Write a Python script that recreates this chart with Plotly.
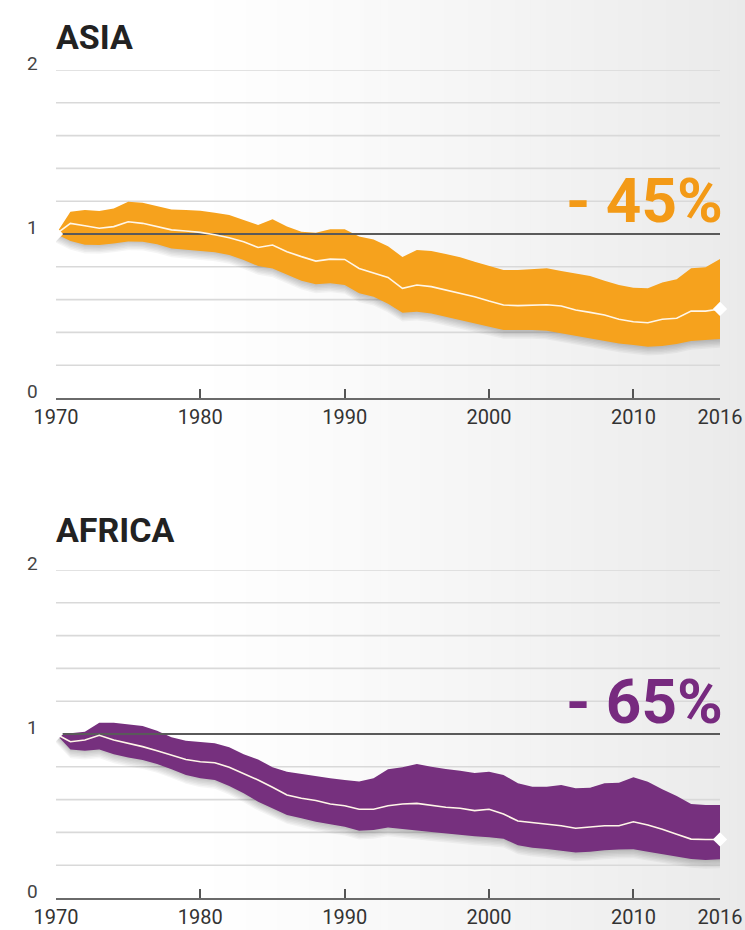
import plotly.graph_objects as go

W, H = 745, 930

years = list(range(1970, 2017))

asia_mid = [1.0, 1.065, 1.05, 1.035, 1.045, 1.075, 1.065, 1.045, 1.025, 1.018,
            1.01, 0.995, 0.977, 0.953, 0.918, 0.933, 0.892, 0.862, 0.835, 0.847,
            0.845, 0.79, 0.764, 0.735, 0.669, 0.689, 0.679, 0.659, 0.642, 0.618,
            0.591, 0.567, 0.563, 0.567, 0.569, 0.561, 0.537, 0.522, 0.506, 0.48,
            0.465, 0.459, 0.48, 0.486, 0.53, 0.53, 0.543]
asia_hi = [1.0, 1.136, 1.146, 1.14, 1.156, 1.197, 1.191, 1.17, 1.15, 1.146,
           1.142, 1.13, 1.116, 1.085, 1.055, 1.09, 1.045, 1.014, 1.008, 1.029,
           1.029, 0.984, 0.967, 0.925, 0.86, 0.902, 0.896, 0.878, 0.858, 0.831,
           0.805, 0.78, 0.78, 0.786, 0.791, 0.774, 0.76, 0.744, 0.715, 0.689,
           0.672, 0.669, 0.705, 0.724, 0.791, 0.797, 0.847]
asia_lo = [1.0, 0.958, 0.935, 0.933, 0.942, 0.955, 0.953, 0.937, 0.912, 0.902,
           0.896, 0.888, 0.872, 0.841, 0.805, 0.79, 0.75, 0.715, 0.693, 0.699,
           0.689, 0.638, 0.618, 0.575, 0.52, 0.526, 0.516, 0.496, 0.476, 0.455,
           0.435, 0.415, 0.415, 0.415, 0.41, 0.394, 0.38, 0.364, 0.35, 0.333,
           0.323, 0.313, 0.317, 0.329, 0.348, 0.354, 0.36]

africa_mid = [1.0, 0.953, 0.963, 0.992, 0.963, 0.943, 0.923, 0.898, 0.872, 0.845,
              0.831, 0.825, 0.797, 0.76, 0.72, 0.675, 0.628, 0.608, 0.594, 0.573,
              0.563, 0.541, 0.541, 0.563, 0.573, 0.577, 0.563, 0.553, 0.547, 0.533,
              0.541, 0.512, 0.469, 0.459, 0.451, 0.441, 0.425, 0.431, 0.441, 0.441,
              0.465, 0.445, 0.419, 0.388, 0.359, 0.357, 0.357]
africa_hi = [1.0, 1.004, 1.014, 1.069, 1.069, 1.061, 1.049, 1.02, 0.98, 0.959,
             0.953, 0.943, 0.919, 0.876, 0.845, 0.797, 0.77, 0.756, 0.744, 0.73,
             0.72, 0.71, 0.73, 0.785, 0.797, 0.817, 0.801, 0.786, 0.776, 0.762,
             0.77, 0.75, 0.7, 0.679, 0.679, 0.689, 0.669, 0.673, 0.7, 0.703,
             0.736, 0.709, 0.663, 0.622, 0.573, 0.567, 0.567]
africa_lo = [1.0, 0.906, 0.898, 0.906, 0.876, 0.856, 0.841, 0.817, 0.785, 0.75,
             0.73, 0.72, 0.683, 0.638, 0.587, 0.547, 0.506, 0.486, 0.465, 0.449,
             0.435, 0.41, 0.415, 0.43, 0.419, 0.411, 0.402, 0.392, 0.386, 0.376,
             0.37, 0.362, 0.321, 0.307, 0.299, 0.289, 0.278, 0.282, 0.291, 0.295,
             0.297, 0.282, 0.266, 0.252, 0.238, 0.232, 0.236]

panels = [
    {"name": "ASIA", "change": "- 45%", "mid": asia_mid, "hi": asia_hi, "lo": asia_lo,
     "color": "#F6A21D", "text_color": "#F39A17", "xa": "x", "ya": "y",
     "top_px": 70, "bot_px": 398, "title_px": 37, "pct_px": 200},
    {"name": "AFRICA", "change": "- 65%", "mid": africa_mid, "hi": africa_hi, "lo": africa_lo,
     "color": "#76307E", "text_color": "#772A7F", "xa": "x2", "ya": "y2",
     "top_px": 570, "bot_px": 898, "title_px": 530, "pct_px": 701},
]

x_ticks = [1970, 1980, 1990, 2000, 2010, 2016]
y_grid = [0.2, 0.4, 0.6, 0.8, 1.2, 1.4, 1.6, 1.8, 2.0]
y_labels = [0, 1, 2]
BASELINE = 1.0

LEFT_PX, RIGHT_PX = 56, 720
FONT = "Roboto, 'Open Sans', sans-serif"

fig = go.Figure()
layout = dict(
    width=W, height=H,
    margin=dict(l=0, r=0, t=0, b=0),
    paper_bgcolor="white", plot_bgcolor="rgba(0,0,0,0)",
    showlegend=False,
    shapes=[], annotations=[],
)

# background gradient (white on the left, light grey on the right)
n = 70
x_start = 190 / W
for i in range(n):
    x0 = x_start + (1 - x_start) * i / n
    x1 = x_start + (1 - x_start) * (i + 1) / n + 0.002
    t = (i + 0.5) / n
    g = int(round(255 - 21 * (t ** 1.15)))
    layout["shapes"].append(dict(type="rect", xref="paper", yref="paper",
                                 x0=x0, x1=x1, y0=0, y1=1, layer="below",
                                 line=dict(width=0), fillcolor=f"rgb({g},{g},{g})"))

for p in panels:
    xa, ya = p["xa"], p["ya"]
    # light grid lines
    for v in y_grid:
        layout["shapes"].append(dict(type="line", xref=xa, yref=ya, x0=years[0], x1=years[-1],
                                     y0=v, y1=v, layer="below",
                                     line=dict(color="#d9d9d9", width=1.6)))
    # soft shadow under the band
    for k in range(1, 7):
        lo_s = [v - 0.009 * k for v in p["lo"]]
        hi_s = [v - 0.003 * k for v in p["hi"]]
        fig.add_trace(go.Scatter(x=years, y=lo_s, mode="lines", line=dict(width=0),
                                 xaxis=xa, yaxis=ya, hoverinfo="skip"))
        fig.add_trace(go.Scatter(x=years, y=hi_s, mode="lines", line=dict(width=0),
                                 fill="tonexty", fillcolor="rgba(0,0,0,0.04)",
                                 xaxis=xa, yaxis=ya, hoverinfo="skip"))
    # band
    fig.add_trace(go.Scatter(x=years, y=p["lo"], mode="lines", line=dict(width=0, color=p["color"]),
                             xaxis=xa, yaxis=ya, hoverinfo="skip"))
    fig.add_trace(go.Scatter(x=years, y=p["hi"], mode="lines", line=dict(width=0, color=p["color"]),
                             fill="tonexty", fillcolor=p["color"],
                             xaxis=xa, yaxis=ya, name=p["name"]))
    # baseline at 1
    fig.add_trace(go.Scatter(x=[years[0], years[-1]], y=[BASELINE, BASELINE], mode="lines",
                             line=dict(color="#5a5a5a", width=2),
                             xaxis=xa, yaxis=ya, hoverinfo="skip"))
    # median line
    fig.add_trace(go.Scatter(x=years, y=p["mid"], mode="lines",
                             line=dict(color="#fff6e8", width=1.6),
                             xaxis=xa, yaxis=ya, name=p["name"] + " index"))
    # end diamonds
    fig.add_trace(go.Scatter(x=[years[0], years[-1]], y=[p["mid"][0], p["mid"][-1]], mode="markers",
                             marker=dict(symbol="diamond", size=11, color="white",
                                         line=dict(width=0)),
                             cliponaxis=False, xaxis=xa, yaxis=ya, hoverinfo="skip"))

    dom_y = [(H - p["bot_px"]) / H, (H - p["top_px"]) / H]
    xkey = "xaxis" if xa == "x" else "xaxis2"
    ykey = "yaxis" if ya == "y" else "yaxis2"
    layout[xkey] = dict(domain=[LEFT_PX / W, RIGHT_PX / W], range=[years[0], years[-1]],
                        anchor=ya, tickvals=x_ticks, ticks="inside", ticklen=9,
                        tickwidth=1.5, tickcolor="#555", showline=True, linecolor="#6a6a6a",
                        linewidth=2, showgrid=False, zeroline=False, automargin=False,
                        tickfont=dict(family=FONT, size=20, color="#333"),
                        fixedrange=True)
    layout[ykey] = dict(domain=dom_y, range=[0, 2], anchor=xa,
                        showticklabels=False, showgrid=False, zeroline=False,
                        showline=False, ticks="", automargin=False, fixedrange=True)

    for v in y_labels:
        layout["annotations"].append(dict(xref="paper", yref=ya, x=32 / W, y=v, yshift=7,
                                          text=str(v), showarrow=False, xanchor="center",
                                          yanchor="middle",
                                          font=dict(family=FONT, size=19, color="#444")))
    layout["annotations"].append(dict(xref="paper", yref="paper", x=54 / W,
                                      y=(H - p["title_px"]) / H, text="<b>" + p["name"] + "</b>",
                                      showarrow=False, xanchor="left", yanchor="middle",
                                      font=dict(family=FONT, size=34, color="#222")))
    layout["annotations"].append(dict(xref="paper", yref="paper", x=725 / W,
                                      y=(H - p["pct_px"]) / H, text="<b>" + p["change"] + "</b>",
                                      showarrow=False, xanchor="right", yanchor="middle",
                                      font=dict(family=FONT, size=62, color=p["text_color"])))

fig.update_layout(**layout)
fig.write_html("out.html", config={"displayModeBar": False},
               post_script="document.body.style.margin='0';")
